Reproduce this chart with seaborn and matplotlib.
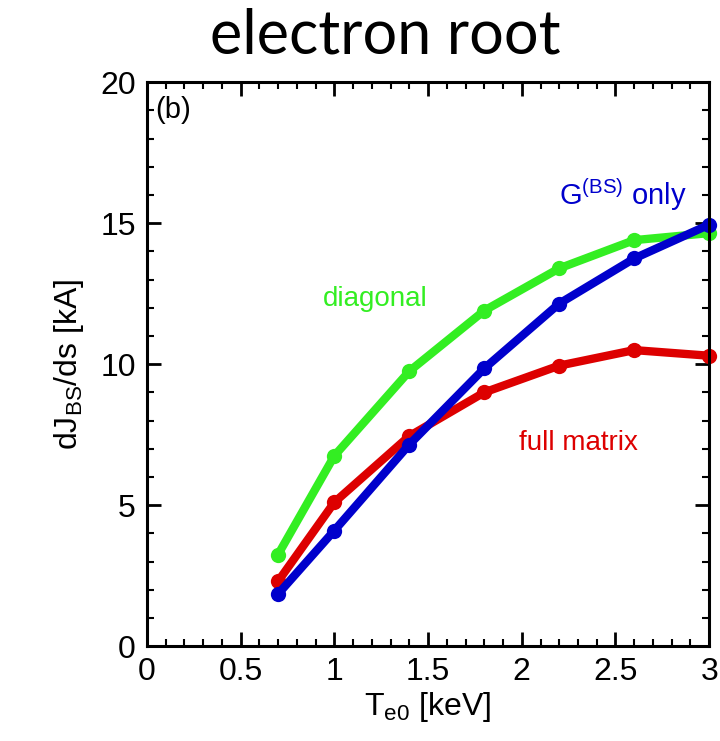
import matplotlib
matplotlib.use("Agg")
import matplotlib.pyplot as plt
import seaborn as sns
import pandas as pd
from matplotlib.ticker import MultipleLocator

sns.set_theme(style="white")
plt.rcParams['font.family'] = ['Liberation Sans', 'DejaVu Sans']
plt.rcParams['mathtext.fontset'] = 'custom'
plt.rcParams['mathtext.rm'] = 'Liberation Sans'

te0 = [0.7, 1.0, 1.4, 1.8, 2.2, 2.6, 3.0]
diagonal = [3.25, 6.75, 9.75, 11.9, 13.4, 14.4, 14.65]
full_matrix = [2.3, 5.1, 7.45, 9.0, 9.95, 10.5, 10.3]
g_bs_only = [1.85, 4.1, 7.15, 9.85, 12.15, 13.75, 14.95]

series_names = ["diagonal", "full matrix", "G(BS) only"]
colors = {"diagonal": "#33ee22", "full matrix": "#dd0000", "G(BS) only": "#0000cc"}

df = pd.concat([
    pd.DataFrame({"Te0": te0, "val": diagonal, "series": "diagonal"}),
    pd.DataFrame({"Te0": te0, "val": full_matrix, "series": "full matrix"}),
    pd.DataFrame({"Te0": te0, "val": g_bs_only, "series": "G(BS) only"}),
])

fig = plt.figure(figsize=(7.2, 7.41), dpi=100)
ax = fig.add_axes([0.204, 0.128, 0.781, 0.761])

sns.lineplot(data=df, x="Te0", y="val", hue="series", hue_order=series_names,
             palette=colors, marker="o", markersize=11, linewidth=6,
             markeredgewidth=0, legend=False, ax=ax, clip_on=False)

ax.set_xlim(0, 3)
ax.set_ylim(0, 20)
ax.xaxis.set_major_locator(MultipleLocator(0.5))
ax.xaxis.set_minor_locator(MultipleLocator(0.1))
ax.yaxis.set_major_locator(MultipleLocator(5))
ax.yaxis.set_minor_locator(MultipleLocator(1))
ax.set_xticks([0, 0.5, 1, 1.5, 2, 2.5, 3])
ax.set_xticklabels(["0", "0.5", "1", "1.5", "2", "2.5", "3"])
ax.tick_params(which="both", direction="in", top=True, right=True, bottom=True, left=True,
               color="black", labelsize=23, labelcolor="black", pad=8)
ax.tick_params(which="major", length=10, width=2)
ax.tick_params(which="minor", length=5, width=1.5)
for s in ax.spines.values():
    s.set_color("black")
    s.set_linewidth(2.2)

ax.set_xlabel(r"T$_{\mathregular{e0}}$ [keV]", fontsize=23, color="black", labelpad=2)
ax.set_ylabel(r"dJ$_{\mathregular{BS}}$/ds [kA]", fontsize=23, color="black", labelpad=10)

ax.text(0.015, 0.975, "(b)", transform=ax.transAxes, fontsize=21, color="black",
        ha="left", va="top")
ax.text(1.22, 12.3, "diagonal", fontsize=20, color=colors["diagonal"], ha="center", va="center")
ax.text(2.3, 7.2, "full matrix", fontsize=20, color=colors["full matrix"], ha="center", va="center")
ax.text(2.54, 16.0, r"G$^{\mathregular{(BS)}}$ only", fontsize=21, color=colors["G(BS) only"],
        ha="center", va="center")

fig.text(0.535, 0.952, "electron root", fontsize=44, color="black", ha="center", va="center",
         family=["Lato", "DejaVu Sans"])

fig.savefig("out.png", dpi=100)
